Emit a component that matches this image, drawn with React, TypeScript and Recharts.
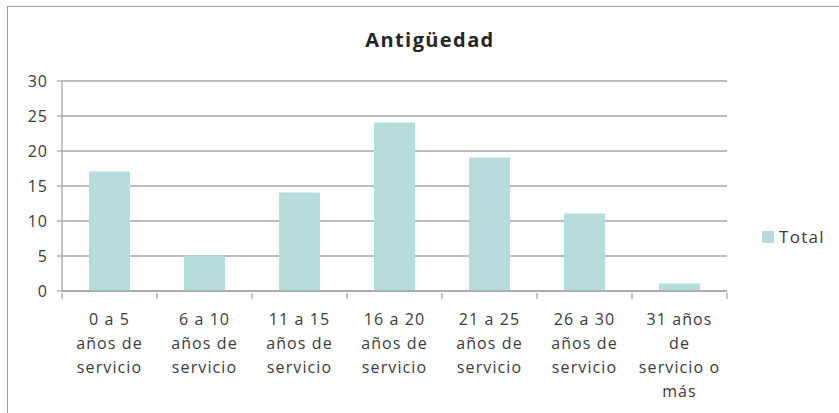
import { BarChart, Bar, XAxis, YAxis, CartesianGrid } from "recharts"

const categories = [
  "0 a 5|años de|servicio",
  "6 a 10|años de|servicio",
  "11 a 15|años de|servicio",
  "16 a 20|años de|servicio",
  "21 a 25|años de|servicio",
  "26 a 30|años de|servicio",
  "31 años|de|servicio o|más",
]
const totals = [17, 5, 14, 24, 19, 11, 1]
const yTicks = [0, 5, 10, 15, 20, 25, 30]

const data = categories.map((name, i) => ({ name, Total: totals[i] }))

const FONT = "'Open Sans', sans-serif"
const TEXT = "#3b3b3b"
const GRID = "#a6a6a6"
const BAR = "#b6dcdc"
const BAND = 95

// eslint-disable-next-line @typescript-eslint/no-explicit-any
function CategoryTick({ x, y, payload, index }: any) {
  const lines = String(payload.value).split("|")
  return (
    <g>
      <line x1={x - BAND / 2} x2={x - BAND / 2} y1={y} y2={y + 6} stroke={GRID} strokeWidth={1.3} />
      {index === categories.length - 1 && (
        <line x1={x + BAND / 2} x2={x + BAND / 2} y1={y} y2={y + 6} stroke={GRID} strokeWidth={1.3} />
      )}
      <text x={x} y={y} textAnchor="middle" fill={TEXT} fontSize={16} fontFamily={FONT} letterSpacing={1.1}>
        {lines.map((l, i) => (
          <tspan key={i} x={x} dy={i === 0 ? 32 : 24}>
            {l}
          </tspan>
        ))}
      </text>
    </g>
  )
}

export default function App() {
  return (
    <div style={{ position: "absolute", left: 0, top: 0, width: 839, height: 413, background: "#fff", overflow: "hidden" }}>
      <div
        style={{
          position: "absolute",
          left: 7,
          top: 6,
          width: 860,
          height: 440,
          border: "1px solid #a0a0a0",
          boxSizing: "border-box",
        }}
      />
      <div
        style={{
          position: "absolute",
          left: 0,
          width: 860,
          top: 26,
          textAlign: "center",
          fontFamily: FONT,
          fontWeight: 700,
          fontSize: 20,
          letterSpacing: 1.4,
          color: "#262626",
        }}
      >
        Antigüedad
      </div>
      <div style={{ position: "absolute", left: 0, top: 0 }}>
        <BarChart width={839} height={413} data={data} margin={{ top: 81, right: 112, bottom: 0, left: 0 }} barCategoryGap="29%">
          <CartesianGrid horizontal vertical={false} stroke={GRID} strokeWidth={1.3} />
          <YAxis
            width={62}
            domain={[0, 30]}
            ticks={yTicks}
            interval={0}
            tickSize={5}
            tickMargin={9}
            axisLine={{ stroke: GRID, strokeWidth: 1.3 }}
            tickLine={{ stroke: GRID, strokeWidth: 1.3 }}
            tick={{ fill: TEXT, fontSize: 16, fontFamily: FONT, letterSpacing: 1 }}
          />
          <XAxis
            dataKey="name"
            interval={0}
            tickLine={false}
            tickSize={0}
            axisLine={{ stroke: GRID, strokeWidth: 1.3 }}
            tick={<CategoryTick />}
            height={122}
          />
          <Bar dataKey="Total" fill={BAR} stroke="#aadfe1" strokeWidth={1} isAnimationActive={false} />
        </BarChart>
      </div>
      <div
        style={{
          position: "absolute",
          left: 762,
          top: 225,
          display: "flex",
          alignItems: "center",
          fontFamily: FONT,
          fontSize: 17,
          letterSpacing: 1.3,
          color: TEXT,
        }}
      >
        <span style={{ width: 12, height: 12, background: BAR, marginRight: 5, display: "inline-block" }} />
        Total
      </div>
    </div>
  )
}
